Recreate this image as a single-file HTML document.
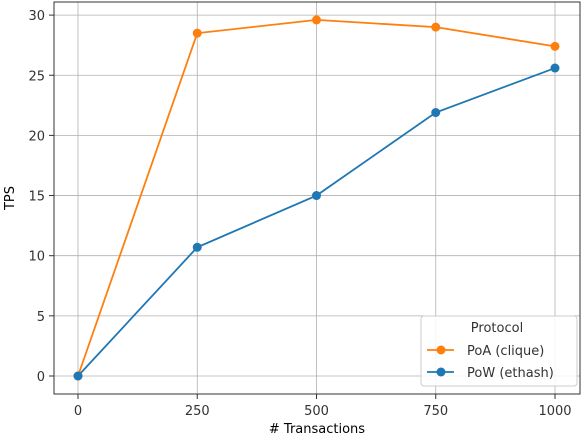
<!DOCTYPE html>
<html><head><meta charset="utf-8"><style>
body{margin:0;background:#fff;}
svg{display:block;font-family:"DejaVu Sans","Liberation Sans",sans-serif;}
</style></head><body>
<svg id="chart" width="583" height="436" viewBox="0 0 583 436" xmlns="http://www.w3.org/2000/svg">
<g id="grid"></g>
<g id="series"></g>
<rect x="54" y="2" width="526" height="392" fill="none" stroke="#333" stroke-width="1"/>
<g id="ticks"></g>
<text x="317" y="433" font-size="13" text-anchor="middle">#&#160;Transactions</text>
<text transform="translate(14,198) rotate(-90)" font-size="13" text-anchor="middle">TPS</text>
<g>
<rect x="421" y="316" width="156" height="70" rx="3" fill="#fff" fill-opacity="0.85" stroke="#ccc"/>
<text x="497" y="332" font-size="13" text-anchor="middle" fill="#333">Protocol</text>
<g><line x1="427" y1="350" x2="454" y2="350" stroke="#ff7f0e" stroke-width="1.8"/><circle cx="441" cy="350" r="4.5" fill="#ff7f0e"/><text x="467" y="355" font-size="13" fill="#333">PoA (clique)</text></g>
<g><line x1="427" y1="372" x2="454" y2="372" stroke="#1f77b4" stroke-width="1.8"/><circle cx="441" cy="372" r="4.5" fill="#1f77b4"/><text x="467" y="377" font-size="13" fill="#333">PoW (ethash)</text></g>
</g>
</svg>
<script>
const xValues=[0,250,500,750,1000];
const poaValues=[0,28.5,29.6,29.0,27.4];
const powValues=[0,10.7,15.0,21.9,25.6];
const xTicks=[0,250,500,750,1000];
const yTicks=[0,5,10,15,20,25,30];
const NS="http://www.w3.org/2000/svg";
function xs(v){return 78+(v/1000)*477;}
function ys(v){return 376-v*12.03;}
function mk(tag,attrs,parent){const e=document.createElementNS(NS,tag);for(const k in attrs)e.setAttribute(k,attrs[k]);parent.appendChild(e);return e;}
const grid=document.getElementById('grid'),ticks=document.getElementById('ticks'),series=document.getElementById('series');
xTicks.forEach(t=>{
 const g=mk('line',{x1:xs(t),x2:xs(t),y1:2,y2:394,stroke:'#b0b0b0','stroke-width':0.8},grid);
 
 
 const tk=mk('line',{x1:xs(t),x2:xs(t),y1:394,y2:399,stroke:'#333'},ticks);
 
 
 const tx=mk('text',{x:xs(t),y:415,'font-size':13,'text-anchor':'middle',fill:'#333'},ticks);
 tx.textContent=t;
 
 
});
yTicks.forEach(t=>{
 const g=mk('line',{x1:54,x2:580,y1:ys(t),y2:ys(t),stroke:'#b0b0b0','stroke-width':0.8},grid);
 
 
 const tk=mk('line',{x1:49,x2:54,y1:ys(t),y2:ys(t),stroke:'#333'},ticks);
 
 
 const tx=mk('text',{x:45,y:ys(t)+5,'font-size':13,'text-anchor':'end',fill:'#333'},ticks);
 tx.textContent=t;
 
 
});
function drawSeries(vals,color,name){
 const pts=vals.map((v,i)=>xs(xValues[i])+','+ys(v)).join(' ');
 const pl=mk('polyline',{points:pts,fill:'none',stroke:color,'stroke-width':1.8},series);
 
 
 vals.forEach((v,i)=>{
  const c=mk('circle',{cx:xs(xValues[i]),cy:ys(v),r:4.5,fill:color},series);
  
  
 });
}
drawSeries(poaValues,'#ff7f0e','poa');
drawSeries(powValues,'#1f77b4','pow');
</script>
</body></html>
